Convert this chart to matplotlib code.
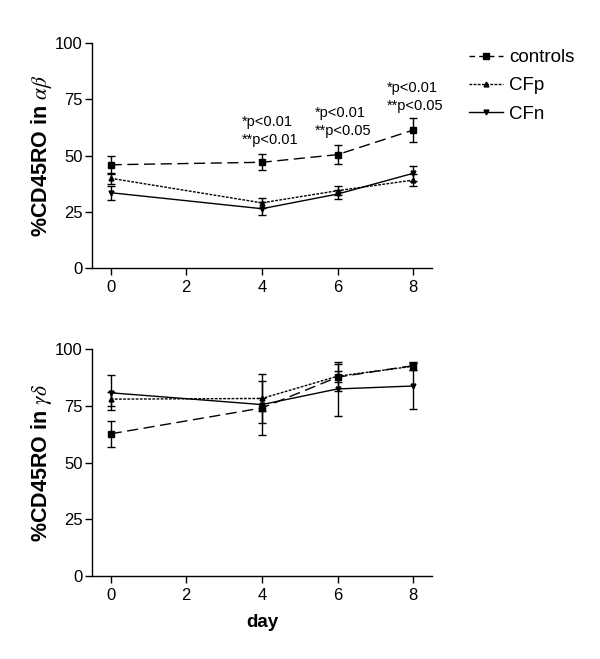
import numpy as np
import matplotlib
matplotlib.use("Agg")
import matplotlib.pyplot as plt
from matplotlib.lines import Line2D

plt.rcParams['font.family'] = ['Liberation Sans', 'DejaVu Sans']
plt.rcParams['mathtext.fontset'] = 'stix'

# data
days = [0, 4, 6, 8]
names = ['controls', 'CFp', 'CFn']

ab_controls = [45.9, 47.0, 50.4, 61.3]
ab_controls_err = [4.0, 3.6, 4.3, 5.2]
ab_cfp = [39.9, 29.0, 34.4, 39.1]
ab_cfp_err = [2.5, 2.2, 2.0, 2.6]
ab_cfn = [33.5, 26.4, 32.9, 42.1]
ab_cfn_err = [3.1, 2.8, 2.0, 3.2]

gd_controls = [62.7, 74.1, 87.7, 92.8]
gd_controls_err = [5.7, 12.0, 6.0, 1.8]
gd_cfp = [78.0, 78.3, 88.1, 92.5]
gd_cfp_err = [3.0, 11.0, 2.5, 1.5]
gd_cfn = [80.8, 75.6, 82.5, 83.8]
gd_cfn_err = [7.7, 3.0, 12.0, 10.0]

# significance labels on the top panel
ann_x = [3.48, 5.4, 7.3]
ann_y1 = [64.9, 68.9, 79.9]
ann_y2 = [56.9, 61.0, 72.0]
ann_t1 = ['*p<0.01', '*p<0.01', '*p<0.01']
ann_t2 = ['**p<0.01', '**p<0.05', '**p<0.05']

styles = {
    'controls': dict(ls=(0, (8, 4)), marker='s', ms=4.2),
    'CFp': dict(ls=(0, (2, 1)), marker='^', ms=3.5),
    'CFn': dict(ls='-', marker='v', ms=3.5),
}
# shorter dashes for the legend samples
leg_ls = {'controls': (0, (4, 3)), 'CFp': (0, (2, 1)), 'CFn': '-'}

fig = plt.figure(figsize=(6, 6.59), dpi=100)
ax1 = fig.add_axes([0.153, 0.593, 0.567, 0.342])
ax2 = fig.add_axes([0.153, 0.126, 0.567, 0.344])

panels = [
    (ax1, [ab_controls, ab_cfp, ab_cfn], [ab_controls_err, ab_cfp_err, ab_cfn_err],
     '%CD45RO in $\\alpha\\beta$'),
    (ax2, [gd_controls, gd_cfp, gd_cfn], [gd_controls_err, gd_cfp_err, gd_cfn_err],
     '%CD45RO in $\\gamma\\delta$'),
]

for ax, series, errs, lab in panels:
    for name, vals, err in zip(names, series, errs):
        st = styles[name]
        ax.plot(days, vals, color='black', lw=1.0, ls=st['ls'],
                marker=st['marker'], ms=st['ms'], label=name)
        ax.errorbar(days, vals, yerr=err, fmt='none', ecolor='black',
                    elinewidth=1.0, capsize=3, capthick=1.0)
    ax.set_xlim(-0.5, 8.5)
    ax.set_ylim(0, 100)
    ax.set_xticks([0, 2, 4, 6, 8])
    ax.set_yticks([0, 25, 50, 75, 100])
    ax.spines['top'].set_visible(False)
    ax.spines['right'].set_visible(False)
    ax.spines['left'].set_linewidth(1.0)
    ax.spines['bottom'].set_linewidth(1.0)
    ax.tick_params(direction='out', length=5, width=1.0, labelsize=12)
    ax.tick_params(axis='y', pad=1.5)
    ax.set_ylabel(lab, fontsize=15.5, fontweight='bold', labelpad=1)

for x, y1, y2, t1, t2 in zip(ann_x, ann_y1, ann_y2, ann_t1, ann_t2):
    ax1.text(x, y1, t1, fontsize=10.5, ha='left', va='center')
    ax1.text(x, y2, t2, fontsize=10.5, ha='left', va='center')

ax2.set_xlabel('day', fontsize=13.5, fontweight='bold', labelpad=8)

handles = [Line2D([], [], color='black', lw=1.0, ls=leg_ls[n],
                  marker=styles[n]['marker'], ms=styles[n]['ms'], label=n)
           for n in names]
fig.legend(handles=handles, loc='upper left', bbox_to_anchor=(469 / 600, 1 - 49 / 659),
           frameon=False, fontsize=13.5, handlelength=1.8, handletextpad=0.35,
           labelspacing=0.6, borderpad=0, borderaxespad=0)

fig.savefig('out.png', dpi=100)
